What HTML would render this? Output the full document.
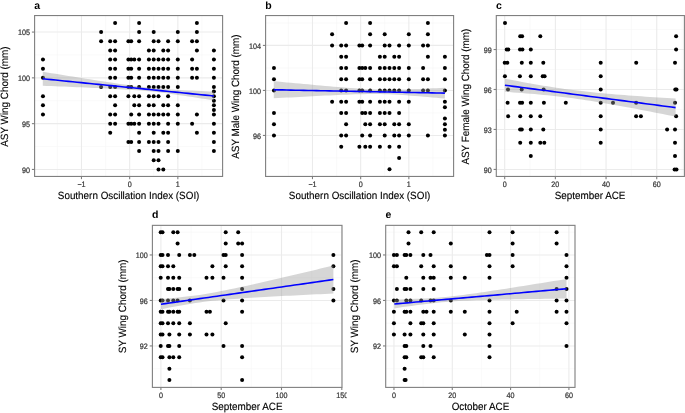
<!DOCTYPE html>
<html><head><meta charset="utf-8"><style>
html,body{margin:0;padding:0;background:#fff;width:685px;height:413px;overflow:hidden}
svg{will-change:transform}
#w{width:685px;height:413px;position:relative}
svg text{text-rendering:geometricPrecision;font-family:"Liberation Sans", sans-serif}
</style></head><body><div id="w">
<svg width="685" height="413" viewBox="0 0 685 413" style="position:absolute;left:0;top:0"><defs><clipPath id="clipa"><rect x="34.6" y="15.55" width="188.0" height="160.89999999999998"/></clipPath><clipPath id="clipb"><rect x="265.6" y="15.55" width="188.0" height="160.89999999999998"/></clipPath><clipPath id="clipc"><rect x="496.3" y="15.55" width="187.49999999999994" height="160.89999999999998"/></clipPath><clipPath id="clipd"><rect x="152.4" y="225.35" width="189.4" height="162.04999999999998"/></clipPath><clipPath id="clipe"><rect x="385.7" y="225.35" width="189.59999999999997" height="162.04999999999998"/></clipPath><clipPath id="clip150"><rect x="330" y="388" width="16.7" height="20"/></clipPath></defs><rect width="685" height="413" fill="#fff"/><g clip-path="url(#clipa)"><line x1="57.39" y1="15.55" x2="57.39" y2="176.45" stroke="#F5F5F5" stroke-width="0.55"/><line x1="105.57" y1="15.55" x2="105.57" y2="176.45" stroke="#F5F5F5" stroke-width="0.55"/><line x1="153.75" y1="15.55" x2="153.75" y2="176.45" stroke="#F5F5F5" stroke-width="0.55"/><line x1="201.93" y1="15.55" x2="201.93" y2="176.45" stroke="#F5F5F5" stroke-width="0.55"/><line x1="34.6" y1="146.54" x2="222.6" y2="146.54" stroke="#F5F5F5" stroke-width="0.55"/><line x1="34.6" y1="100.75" x2="222.6" y2="100.75" stroke="#F5F5F5" stroke-width="0.55"/><line x1="34.6" y1="54.96" x2="222.6" y2="54.96" stroke="#F5F5F5" stroke-width="0.55"/><line x1="81.48" y1="15.55" x2="81.48" y2="176.45" stroke="#EBEBEB" stroke-width="1.1"/><line x1="129.66" y1="15.55" x2="129.66" y2="176.45" stroke="#EBEBEB" stroke-width="1.1"/><line x1="177.84" y1="15.55" x2="177.84" y2="176.45" stroke="#EBEBEB" stroke-width="1.1"/><line x1="34.6" y1="169.44" x2="222.6" y2="169.44" stroke="#EBEBEB" stroke-width="1.1"/><line x1="34.6" y1="123.65" x2="222.6" y2="123.65" stroke="#EBEBEB" stroke-width="1.1"/><line x1="34.6" y1="77.86" x2="222.6" y2="77.86" stroke="#EBEBEB" stroke-width="1.1"/><line x1="34.6" y1="32.07" x2="222.6" y2="32.07" stroke="#EBEBEB" stroke-width="1.1"/><circle cx="115.10" cy="22.91" r="2.0" fill="#000"/><circle cx="139.10" cy="22.91" r="2.0" fill="#000"/><circle cx="196.90" cy="22.91" r="2.0" fill="#000"/><circle cx="101.10" cy="32.07" r="2.0" fill="#000"/><circle cx="139.10" cy="32.07" r="2.0" fill="#000"/><circle cx="153.70" cy="32.07" r="2.0" fill="#000"/><circle cx="177.80" cy="32.07" r="2.0" fill="#000"/><circle cx="196.90" cy="32.07" r="2.0" fill="#000"/><circle cx="101.10" cy="41.23" r="2.0" fill="#000"/><circle cx="110.20" cy="41.23" r="2.0" fill="#000"/><circle cx="115.10" cy="41.23" r="2.0" fill="#000"/><circle cx="128.40" cy="41.23" r="2.0" fill="#000"/><circle cx="131.20" cy="41.23" r="2.0" fill="#000"/><circle cx="139.10" cy="41.23" r="2.0" fill="#000"/><circle cx="153.70" cy="41.23" r="2.0" fill="#000"/><circle cx="158.50" cy="41.23" r="2.0" fill="#000"/><circle cx="168.10" cy="41.23" r="2.0" fill="#000"/><circle cx="177.80" cy="41.23" r="2.0" fill="#000"/><circle cx="192.10" cy="41.23" r="2.0" fill="#000"/><circle cx="196.90" cy="41.23" r="2.0" fill="#000"/><circle cx="110.20" cy="50.38" r="2.0" fill="#000"/><circle cx="115.10" cy="50.38" r="2.0" fill="#000"/><circle cx="148.90" cy="50.38" r="2.0" fill="#000"/><circle cx="153.70" cy="50.38" r="2.0" fill="#000"/><circle cx="163.30" cy="50.38" r="2.0" fill="#000"/><circle cx="168.10" cy="50.38" r="2.0" fill="#000"/><circle cx="196.90" cy="50.38" r="2.0" fill="#000"/><circle cx="213.90" cy="50.38" r="2.0" fill="#000"/><circle cx="42.95" cy="59.54" r="2.0" fill="#000"/><circle cx="110.20" cy="59.54" r="2.0" fill="#000"/><circle cx="115.10" cy="59.54" r="2.0" fill="#000"/><circle cx="128.40" cy="59.54" r="2.0" fill="#000"/><circle cx="131.20" cy="59.54" r="2.0" fill="#000"/><circle cx="134.30" cy="59.54" r="2.0" fill="#000"/><circle cx="139.10" cy="59.54" r="2.0" fill="#000"/><circle cx="148.90" cy="59.54" r="2.0" fill="#000"/><circle cx="153.70" cy="59.54" r="2.0" fill="#000"/><circle cx="158.50" cy="59.54" r="2.0" fill="#000"/><circle cx="163.30" cy="59.54" r="2.0" fill="#000"/><circle cx="168.10" cy="59.54" r="2.0" fill="#000"/><circle cx="177.80" cy="59.54" r="2.0" fill="#000"/><circle cx="192.10" cy="59.54" r="2.0" fill="#000"/><circle cx="213.90" cy="59.54" r="2.0" fill="#000"/><circle cx="42.95" cy="68.70" r="2.0" fill="#000"/><circle cx="110.20" cy="68.70" r="2.0" fill="#000"/><circle cx="115.10" cy="68.70" r="2.0" fill="#000"/><circle cx="128.40" cy="68.70" r="2.0" fill="#000"/><circle cx="131.20" cy="68.70" r="2.0" fill="#000"/><circle cx="139.10" cy="68.70" r="2.0" fill="#000"/><circle cx="148.90" cy="68.70" r="2.0" fill="#000"/><circle cx="153.70" cy="68.70" r="2.0" fill="#000"/><circle cx="158.50" cy="68.70" r="2.0" fill="#000"/><circle cx="163.30" cy="68.70" r="2.0" fill="#000"/><circle cx="168.10" cy="68.70" r="2.0" fill="#000"/><circle cx="177.80" cy="68.70" r="2.0" fill="#000"/><circle cx="192.10" cy="68.70" r="2.0" fill="#000"/><circle cx="196.90" cy="68.70" r="2.0" fill="#000"/><circle cx="213.90" cy="68.70" r="2.0" fill="#000"/><circle cx="42.95" cy="77.86" r="2.0" fill="#000"/><circle cx="110.20" cy="77.86" r="2.0" fill="#000"/><circle cx="115.10" cy="77.86" r="2.0" fill="#000"/><circle cx="128.40" cy="77.86" r="2.0" fill="#000"/><circle cx="131.20" cy="77.86" r="2.0" fill="#000"/><circle cx="139.10" cy="77.86" r="2.0" fill="#000"/><circle cx="148.90" cy="77.86" r="2.0" fill="#000"/><circle cx="153.70" cy="77.86" r="2.0" fill="#000"/><circle cx="158.50" cy="77.86" r="2.0" fill="#000"/><circle cx="163.30" cy="77.86" r="2.0" fill="#000"/><circle cx="168.10" cy="77.86" r="2.0" fill="#000"/><circle cx="177.80" cy="77.86" r="2.0" fill="#000"/><circle cx="192.10" cy="77.86" r="2.0" fill="#000"/><circle cx="196.90" cy="77.86" r="2.0" fill="#000"/><circle cx="213.90" cy="77.86" r="2.0" fill="#000"/><circle cx="101.10" cy="87.02" r="2.0" fill="#000"/><circle cx="110.20" cy="87.02" r="2.0" fill="#000"/><circle cx="115.10" cy="87.02" r="2.0" fill="#000"/><circle cx="128.40" cy="87.02" r="2.0" fill="#000"/><circle cx="131.20" cy="87.02" r="2.0" fill="#000"/><circle cx="139.10" cy="87.02" r="2.0" fill="#000"/><circle cx="148.90" cy="87.02" r="2.0" fill="#000"/><circle cx="153.70" cy="87.02" r="2.0" fill="#000"/><circle cx="158.50" cy="87.02" r="2.0" fill="#000"/><circle cx="163.30" cy="87.02" r="2.0" fill="#000"/><circle cx="168.10" cy="87.02" r="2.0" fill="#000"/><circle cx="177.80" cy="87.02" r="2.0" fill="#000"/><circle cx="213.90" cy="87.02" r="2.0" fill="#000"/><circle cx="213.90" cy="91.60" r="2.0" fill="#000"/><circle cx="42.95" cy="96.17" r="2.0" fill="#000"/><circle cx="110.20" cy="96.17" r="2.0" fill="#000"/><circle cx="115.10" cy="96.17" r="2.0" fill="#000"/><circle cx="128.40" cy="96.17" r="2.0" fill="#000"/><circle cx="134.30" cy="96.17" r="2.0" fill="#000"/><circle cx="139.10" cy="96.17" r="2.0" fill="#000"/><circle cx="148.90" cy="96.17" r="2.0" fill="#000"/><circle cx="153.70" cy="96.17" r="2.0" fill="#000"/><circle cx="158.50" cy="96.17" r="2.0" fill="#000"/><circle cx="168.10" cy="96.17" r="2.0" fill="#000"/><circle cx="213.90" cy="96.17" r="2.0" fill="#000"/><circle cx="213.90" cy="100.75" r="2.0" fill="#000"/><circle cx="42.95" cy="105.33" r="2.0" fill="#000"/><circle cx="115.10" cy="105.33" r="2.0" fill="#000"/><circle cx="134.30" cy="105.33" r="2.0" fill="#000"/><circle cx="139.10" cy="105.33" r="2.0" fill="#000"/><circle cx="148.90" cy="105.33" r="2.0" fill="#000"/><circle cx="153.70" cy="105.33" r="2.0" fill="#000"/><circle cx="163.30" cy="105.33" r="2.0" fill="#000"/><circle cx="168.10" cy="105.33" r="2.0" fill="#000"/><circle cx="177.80" cy="105.33" r="2.0" fill="#000"/><circle cx="213.90" cy="105.33" r="2.0" fill="#000"/><circle cx="213.90" cy="109.91" r="2.0" fill="#000"/><circle cx="42.95" cy="114.49" r="2.0" fill="#000"/><circle cx="110.20" cy="114.49" r="2.0" fill="#000"/><circle cx="115.10" cy="114.49" r="2.0" fill="#000"/><circle cx="131.20" cy="114.49" r="2.0" fill="#000"/><circle cx="139.10" cy="114.49" r="2.0" fill="#000"/><circle cx="148.90" cy="114.49" r="2.0" fill="#000"/><circle cx="153.70" cy="114.49" r="2.0" fill="#000"/><circle cx="158.50" cy="114.49" r="2.0" fill="#000"/><circle cx="163.30" cy="114.49" r="2.0" fill="#000"/><circle cx="168.10" cy="114.49" r="2.0" fill="#000"/><circle cx="177.80" cy="114.49" r="2.0" fill="#000"/><circle cx="196.90" cy="114.49" r="2.0" fill="#000"/><circle cx="213.90" cy="114.49" r="2.0" fill="#000"/><circle cx="110.20" cy="123.65" r="2.0" fill="#000"/><circle cx="115.10" cy="123.65" r="2.0" fill="#000"/><circle cx="128.40" cy="123.65" r="2.0" fill="#000"/><circle cx="131.20" cy="123.65" r="2.0" fill="#000"/><circle cx="134.30" cy="123.65" r="2.0" fill="#000"/><circle cx="139.10" cy="123.65" r="2.0" fill="#000"/><circle cx="148.90" cy="123.65" r="2.0" fill="#000"/><circle cx="153.70" cy="123.65" r="2.0" fill="#000"/><circle cx="158.50" cy="123.65" r="2.0" fill="#000"/><circle cx="168.10" cy="123.65" r="2.0" fill="#000"/><circle cx="177.80" cy="123.65" r="2.0" fill="#000"/><circle cx="192.10" cy="123.65" r="2.0" fill="#000"/><circle cx="213.90" cy="123.65" r="2.0" fill="#000"/><circle cx="110.20" cy="132.81" r="2.0" fill="#000"/><circle cx="139.10" cy="132.81" r="2.0" fill="#000"/><circle cx="153.70" cy="132.81" r="2.0" fill="#000"/><circle cx="163.30" cy="132.81" r="2.0" fill="#000"/><circle cx="168.10" cy="132.81" r="2.0" fill="#000"/><circle cx="196.90" cy="132.81" r="2.0" fill="#000"/><circle cx="213.90" cy="132.81" r="2.0" fill="#000"/><circle cx="128.40" cy="141.97" r="2.0" fill="#000"/><circle cx="131.20" cy="141.97" r="2.0" fill="#000"/><circle cx="139.10" cy="141.97" r="2.0" fill="#000"/><circle cx="148.90" cy="141.97" r="2.0" fill="#000"/><circle cx="153.70" cy="141.97" r="2.0" fill="#000"/><circle cx="158.50" cy="141.97" r="2.0" fill="#000"/><circle cx="168.10" cy="141.97" r="2.0" fill="#000"/><circle cx="213.90" cy="141.97" r="2.0" fill="#000"/><circle cx="139.10" cy="151.12" r="2.0" fill="#000"/><circle cx="153.70" cy="151.12" r="2.0" fill="#000"/><circle cx="158.50" cy="151.12" r="2.0" fill="#000"/><circle cx="168.10" cy="151.12" r="2.0" fill="#000"/><circle cx="177.80" cy="151.12" r="2.0" fill="#000"/><circle cx="213.90" cy="151.12" r="2.0" fill="#000"/><circle cx="153.70" cy="160.28" r="2.0" fill="#000"/><circle cx="158.50" cy="160.28" r="2.0" fill="#000"/><circle cx="158.50" cy="169.44" r="2.0" fill="#000"/><circle cx="163.30" cy="169.44" r="2.0" fill="#000"/><polygon points="42.80,71.81 47.08,72.50 51.35,73.19 55.63,73.87 59.91,74.56 64.19,75.24 68.47,75.93 72.74,76.61 77.02,77.29 81.30,77.97 85.58,78.64 89.85,79.32 94.13,79.99 98.41,80.65 102.69,81.31 106.96,81.97 111.24,82.62 115.52,83.26 119.80,83.89 124.07,84.50 128.35,85.10 132.63,85.68 136.91,86.24 141.18,86.76 145.46,87.25 149.74,87.70 154.01,88.12 158.29,88.49 162.57,88.84 166.85,89.15 171.12,89.43 175.40,89.70 179.68,89.94 183.96,90.18 188.24,90.40 192.51,90.61 196.79,90.82 201.07,91.02 205.35,91.22 209.62,91.41 213.90,91.60 213.90,100.39 209.62,99.72 205.35,99.05 201.07,98.38 196.79,97.72 192.51,97.07 188.24,96.42 183.96,95.78 179.68,95.15 175.40,94.54 171.12,93.94 166.85,93.37 162.57,92.82 158.29,92.30 154.01,91.81 149.74,91.37 145.46,90.96 141.18,90.59 136.91,90.25 132.63,89.95 128.35,89.67 124.07,89.40 119.80,89.16 115.52,88.93 111.24,88.71 106.96,88.49 102.69,88.29 98.41,88.09 94.13,87.89 89.85,87.70 85.58,87.51 81.30,87.33 77.02,87.15 72.74,86.97 68.47,86.79 64.19,86.61 59.91,86.43 55.63,86.26 51.35,86.08 47.08,85.91 42.80,85.74" fill="#999" fill-opacity="0.4"/><polyline points="42.80,78.77 47.08,79.20 51.35,79.64 55.63,80.07 59.91,80.50 64.19,80.93 68.47,81.36 72.74,81.79 77.02,82.22 81.30,82.65 85.58,83.08 89.85,83.51 94.13,83.94 98.41,84.37 102.69,84.80 106.96,85.23 111.24,85.66 115.52,86.09 119.80,86.52 124.07,86.95 128.35,87.38 132.63,87.81 136.91,88.24 141.18,88.67 145.46,89.10 149.74,89.54 154.01,89.97 158.29,90.40 162.57,90.83 166.85,91.26 171.12,91.69 175.40,92.12 179.68,92.55 183.96,92.98 188.24,93.41 192.51,93.84 196.79,94.27 201.07,94.70 205.35,95.13 209.62,95.56 213.90,95.99" fill="none" stroke="#0000FF" stroke-width="1.6"/></g><rect x="34.6" y="15.55" width="188.0" height="160.89999999999998" fill="none" stroke="#7f7f7f" stroke-width="1.1"/><line x1="81.48" y1="176.45" x2="81.48" y2="179.14999999999998" stroke="#7f7f7f" stroke-width="1.1"/><text transform="translate(81.48 187.05) scale(1 1.1)" font-size="7.2" fill="#333" stroke="#333" stroke-width="0.2" text-anchor="middle">−1</text><line x1="129.66" y1="176.45" x2="129.66" y2="179.14999999999998" stroke="#7f7f7f" stroke-width="1.1"/><text transform="translate(129.66 187.05) scale(1 1.1)" font-size="7.2" fill="#333" stroke="#333" stroke-width="0.2" text-anchor="middle">0</text><line x1="177.84" y1="176.45" x2="177.84" y2="179.14999999999998" stroke="#7f7f7f" stroke-width="1.1"/><text transform="translate(177.84 187.05) scale(1 1.1)" font-size="7.2" fill="#333" stroke="#333" stroke-width="0.2" text-anchor="middle">1</text><line x1="31.900000000000002" y1="169.44" x2="34.6" y2="169.44" stroke="#7f7f7f" stroke-width="1.1"/><text transform="translate(30.00 172.74) scale(1 1.1)" font-size="7.2" fill="#333" stroke="#333" stroke-width="0.2" text-anchor="end">90</text><line x1="31.900000000000002" y1="123.65" x2="34.6" y2="123.65" stroke="#7f7f7f" stroke-width="1.1"/><text transform="translate(30.00 126.95) scale(1 1.1)" font-size="7.2" fill="#333" stroke="#333" stroke-width="0.2" text-anchor="end">95</text><line x1="31.900000000000002" y1="77.86" x2="34.6" y2="77.86" stroke="#7f7f7f" stroke-width="1.1"/><text transform="translate(30.00 81.16) scale(1 1.1)" font-size="7.2" fill="#333" stroke="#333" stroke-width="0.2" text-anchor="end">100</text><line x1="31.900000000000002" y1="32.07" x2="34.6" y2="32.07" stroke="#7f7f7f" stroke-width="1.1"/><text transform="translate(30.00 35.37) scale(1 1.1)" font-size="7.2" fill="#333" stroke="#333" stroke-width="0.2" text-anchor="end">105</text><text transform="translate(128.60 199.40) scale(1 1.06)" font-size="9.9" fill="#000" stroke="#000" stroke-width="0.12" text-anchor="middle">Southern Oscillation Index (SOI)</text><text transform="translate(7.60 96.60) rotate(-90) scale(1 1.06)" font-size="9.9" fill="#000" stroke="#000" stroke-width="0.12" text-anchor="middle">ASY Wing Chord (mm)</text><text x="34.30" y="8.90" font-size="10.5" font-weight="bold" fill="#000">a</text><g clip-path="url(#clipb)"><line x1="288.39" y1="15.55" x2="288.39" y2="176.45" stroke="#F5F5F5" stroke-width="0.55"/><line x1="336.57" y1="15.55" x2="336.57" y2="176.45" stroke="#F5F5F5" stroke-width="0.55"/><line x1="384.75" y1="15.55" x2="384.75" y2="176.45" stroke="#F5F5F5" stroke-width="0.55"/><line x1="432.93" y1="15.55" x2="432.93" y2="176.45" stroke="#F5F5F5" stroke-width="0.55"/><line x1="265.6" y1="157.95" x2="453.6" y2="157.95" stroke="#F5F5F5" stroke-width="0.55"/><line x1="265.6" y1="112.93" x2="453.6" y2="112.93" stroke="#F5F5F5" stroke-width="0.55"/><line x1="265.6" y1="67.92" x2="453.6" y2="67.92" stroke="#F5F5F5" stroke-width="0.55"/><line x1="265.6" y1="22.91" x2="453.6" y2="22.91" stroke="#F5F5F5" stroke-width="0.55"/><line x1="312.48" y1="15.55" x2="312.48" y2="176.45" stroke="#EBEBEB" stroke-width="1.1"/><line x1="360.66" y1="15.55" x2="360.66" y2="176.45" stroke="#EBEBEB" stroke-width="1.1"/><line x1="408.84" y1="15.55" x2="408.84" y2="176.45" stroke="#EBEBEB" stroke-width="1.1"/><line x1="265.6" y1="135.44" x2="453.6" y2="135.44" stroke="#EBEBEB" stroke-width="1.1"/><line x1="265.6" y1="90.43" x2="453.6" y2="90.43" stroke="#EBEBEB" stroke-width="1.1"/><line x1="265.6" y1="45.42" x2="453.6" y2="45.42" stroke="#EBEBEB" stroke-width="1.1"/><circle cx="346.10" cy="22.91" r="2.0" fill="#000"/><circle cx="370.10" cy="22.91" r="2.0" fill="#000"/><circle cx="427.90" cy="22.91" r="2.0" fill="#000"/><circle cx="332.10" cy="34.16" r="2.0" fill="#000"/><circle cx="370.10" cy="34.16" r="2.0" fill="#000"/><circle cx="384.70" cy="34.16" r="2.0" fill="#000"/><circle cx="408.80" cy="34.16" r="2.0" fill="#000"/><circle cx="427.90" cy="34.16" r="2.0" fill="#000"/><circle cx="332.10" cy="45.42" r="2.0" fill="#000"/><circle cx="341.20" cy="45.42" r="2.0" fill="#000"/><circle cx="346.10" cy="45.42" r="2.0" fill="#000"/><circle cx="359.40" cy="45.42" r="2.0" fill="#000"/><circle cx="362.20" cy="45.42" r="2.0" fill="#000"/><circle cx="370.10" cy="45.42" r="2.0" fill="#000"/><circle cx="384.70" cy="45.42" r="2.0" fill="#000"/><circle cx="389.50" cy="45.42" r="2.0" fill="#000"/><circle cx="399.10" cy="45.42" r="2.0" fill="#000"/><circle cx="408.80" cy="45.42" r="2.0" fill="#000"/><circle cx="423.10" cy="45.42" r="2.0" fill="#000"/><circle cx="427.90" cy="45.42" r="2.0" fill="#000"/><circle cx="341.20" cy="56.67" r="2.0" fill="#000"/><circle cx="346.10" cy="56.67" r="2.0" fill="#000"/><circle cx="379.90" cy="56.67" r="2.0" fill="#000"/><circle cx="384.70" cy="56.67" r="2.0" fill="#000"/><circle cx="394.30" cy="56.67" r="2.0" fill="#000"/><circle cx="399.10" cy="56.67" r="2.0" fill="#000"/><circle cx="427.90" cy="56.67" r="2.0" fill="#000"/><circle cx="444.90" cy="56.67" r="2.0" fill="#000"/><circle cx="273.95" cy="67.92" r="2.0" fill="#000"/><circle cx="341.20" cy="67.92" r="2.0" fill="#000"/><circle cx="346.10" cy="67.92" r="2.0" fill="#000"/><circle cx="359.40" cy="67.92" r="2.0" fill="#000"/><circle cx="362.20" cy="67.92" r="2.0" fill="#000"/><circle cx="365.30" cy="67.92" r="2.0" fill="#000"/><circle cx="370.10" cy="67.92" r="2.0" fill="#000"/><circle cx="379.90" cy="67.92" r="2.0" fill="#000"/><circle cx="384.70" cy="67.92" r="2.0" fill="#000"/><circle cx="389.50" cy="67.92" r="2.0" fill="#000"/><circle cx="394.30" cy="67.92" r="2.0" fill="#000"/><circle cx="399.10" cy="67.92" r="2.0" fill="#000"/><circle cx="408.80" cy="67.92" r="2.0" fill="#000"/><circle cx="423.10" cy="67.92" r="2.0" fill="#000"/><circle cx="444.90" cy="67.92" r="2.0" fill="#000"/><circle cx="273.95" cy="79.18" r="2.0" fill="#000"/><circle cx="341.20" cy="79.18" r="2.0" fill="#000"/><circle cx="346.10" cy="79.18" r="2.0" fill="#000"/><circle cx="359.40" cy="79.18" r="2.0" fill="#000"/><circle cx="362.20" cy="79.18" r="2.0" fill="#000"/><circle cx="370.10" cy="79.18" r="2.0" fill="#000"/><circle cx="379.90" cy="79.18" r="2.0" fill="#000"/><circle cx="384.70" cy="79.18" r="2.0" fill="#000"/><circle cx="389.50" cy="79.18" r="2.0" fill="#000"/><circle cx="394.30" cy="79.18" r="2.0" fill="#000"/><circle cx="399.10" cy="79.18" r="2.0" fill="#000"/><circle cx="408.80" cy="79.18" r="2.0" fill="#000"/><circle cx="423.10" cy="79.18" r="2.0" fill="#000"/><circle cx="427.90" cy="79.18" r="2.0" fill="#000"/><circle cx="444.90" cy="79.18" r="2.0" fill="#000"/><circle cx="273.95" cy="90.43" r="2.0" fill="#000"/><circle cx="341.20" cy="90.43" r="2.0" fill="#000"/><circle cx="346.10" cy="90.43" r="2.0" fill="#000"/><circle cx="359.40" cy="90.43" r="2.0" fill="#000"/><circle cx="362.20" cy="90.43" r="2.0" fill="#000"/><circle cx="370.10" cy="90.43" r="2.0" fill="#000"/><circle cx="379.90" cy="90.43" r="2.0" fill="#000"/><circle cx="384.70" cy="90.43" r="2.0" fill="#000"/><circle cx="389.50" cy="90.43" r="2.0" fill="#000"/><circle cx="394.30" cy="90.43" r="2.0" fill="#000"/><circle cx="399.10" cy="90.43" r="2.0" fill="#000"/><circle cx="408.80" cy="90.43" r="2.0" fill="#000"/><circle cx="423.10" cy="90.43" r="2.0" fill="#000"/><circle cx="427.90" cy="90.43" r="2.0" fill="#000"/><circle cx="444.90" cy="90.43" r="2.0" fill="#000"/><circle cx="332.10" cy="101.68" r="2.0" fill="#000"/><circle cx="341.20" cy="101.68" r="2.0" fill="#000"/><circle cx="346.10" cy="101.68" r="2.0" fill="#000"/><circle cx="359.40" cy="101.68" r="2.0" fill="#000"/><circle cx="362.20" cy="101.68" r="2.0" fill="#000"/><circle cx="370.10" cy="101.68" r="2.0" fill="#000"/><circle cx="379.90" cy="101.68" r="2.0" fill="#000"/><circle cx="384.70" cy="101.68" r="2.0" fill="#000"/><circle cx="389.50" cy="101.68" r="2.0" fill="#000"/><circle cx="399.10" cy="101.68" r="2.0" fill="#000"/><circle cx="408.80" cy="101.68" r="2.0" fill="#000"/><circle cx="444.90" cy="101.68" r="2.0" fill="#000"/><circle cx="444.90" cy="107.31" r="2.0" fill="#000"/><circle cx="273.95" cy="112.93" r="2.0" fill="#000"/><circle cx="341.20" cy="112.93" r="2.0" fill="#000"/><circle cx="346.10" cy="112.93" r="2.0" fill="#000"/><circle cx="362.20" cy="112.93" r="2.0" fill="#000"/><circle cx="365.30" cy="112.93" r="2.0" fill="#000"/><circle cx="370.10" cy="112.93" r="2.0" fill="#000"/><circle cx="379.90" cy="112.93" r="2.0" fill="#000"/><circle cx="384.70" cy="112.93" r="2.0" fill="#000"/><circle cx="389.50" cy="112.93" r="2.0" fill="#000"/><circle cx="399.10" cy="112.93" r="2.0" fill="#000"/><circle cx="444.90" cy="118.56" r="2.0" fill="#000"/><circle cx="273.95" cy="124.19" r="2.0" fill="#000"/><circle cx="346.10" cy="124.19" r="2.0" fill="#000"/><circle cx="365.30" cy="124.19" r="2.0" fill="#000"/><circle cx="370.10" cy="124.19" r="2.0" fill="#000"/><circle cx="379.90" cy="124.19" r="2.0" fill="#000"/><circle cx="384.70" cy="124.19" r="2.0" fill="#000"/><circle cx="394.30" cy="124.19" r="2.0" fill="#000"/><circle cx="399.10" cy="124.19" r="2.0" fill="#000"/><circle cx="408.80" cy="124.19" r="2.0" fill="#000"/><circle cx="444.90" cy="124.19" r="2.0" fill="#000"/><circle cx="444.90" cy="129.81" r="2.0" fill="#000"/><circle cx="273.95" cy="135.44" r="2.0" fill="#000"/><circle cx="341.20" cy="135.44" r="2.0" fill="#000"/><circle cx="346.10" cy="135.44" r="2.0" fill="#000"/><circle cx="362.20" cy="135.44" r="2.0" fill="#000"/><circle cx="370.10" cy="135.44" r="2.0" fill="#000"/><circle cx="384.70" cy="135.44" r="2.0" fill="#000"/><circle cx="394.30" cy="135.44" r="2.0" fill="#000"/><circle cx="399.10" cy="135.44" r="2.0" fill="#000"/><circle cx="408.80" cy="135.44" r="2.0" fill="#000"/><circle cx="427.90" cy="135.44" r="2.0" fill="#000"/><circle cx="444.90" cy="135.44" r="2.0" fill="#000"/><circle cx="341.20" cy="146.69" r="2.0" fill="#000"/><circle cx="359.40" cy="146.69" r="2.0" fill="#000"/><circle cx="365.30" cy="146.69" r="2.0" fill="#000"/><circle cx="370.10" cy="146.69" r="2.0" fill="#000"/><circle cx="379.90" cy="146.69" r="2.0" fill="#000"/><circle cx="389.50" cy="146.69" r="2.0" fill="#000"/><circle cx="399.10" cy="146.69" r="2.0" fill="#000"/><circle cx="399.10" cy="157.95" r="2.0" fill="#000"/><circle cx="389.50" cy="169.20" r="2.0" fill="#000"/><polygon points="273.80,81.20 278.08,81.60 282.36,82.00 286.63,82.40 290.91,82.80 295.19,83.19 299.47,83.59 303.74,83.98 308.02,84.37 312.30,84.76 316.57,85.15 320.85,85.53 325.13,85.91 329.41,86.28 333.69,86.65 337.96,87.01 342.24,87.36 346.52,87.70 350.79,88.03 355.07,88.34 359.35,88.64 363.63,88.90 367.90,89.14 372.18,89.34 376.46,89.50 380.74,89.61 385.01,89.68 389.29,89.69 393.57,89.67 397.85,89.61 402.12,89.51 406.40,89.39 410.68,89.25 414.96,89.09 419.24,88.92 423.51,88.74 427.79,88.55 432.07,88.35 436.34,88.15 440.62,87.94 444.90,87.73 444.90,98.53 440.62,98.15 436.34,97.77 432.07,97.40 427.79,97.03 423.51,96.67 419.24,96.32 414.96,95.98 410.68,95.66 406.40,95.35 402.12,95.06 397.85,94.79 393.57,94.56 389.29,94.37 385.01,94.22 380.74,94.11 376.46,94.06 372.18,94.05 367.90,94.08 363.63,94.15 359.35,94.25 355.07,94.37 350.79,94.51 346.52,94.67 342.24,94.85 337.96,95.03 333.69,95.22 329.41,95.42 325.13,95.62 320.85,95.83 316.57,96.05 312.30,96.26 308.02,96.48 303.74,96.71 299.47,96.93 295.19,97.16 290.91,97.39 286.63,97.62 282.36,97.85 278.08,98.08 273.80,98.31" fill="#999" fill-opacity="0.4"/><polyline points="273.80,89.75 278.08,89.84 282.36,89.92 286.63,90.01 290.91,90.09 295.19,90.18 299.47,90.26 303.74,90.34 308.02,90.43 312.30,90.51 316.57,90.60 320.85,90.68 325.13,90.77 329.41,90.85 333.69,90.93 337.96,91.02 342.24,91.10 346.52,91.19 350.79,91.27 355.07,91.36 359.35,91.44 363.63,91.53 367.90,91.61 372.18,91.69 376.46,91.78 380.74,91.86 385.01,91.95 389.29,92.03 393.57,92.12 397.85,92.20 402.12,92.29 406.40,92.37 410.68,92.45 414.96,92.54 419.24,92.62 423.51,92.71 427.79,92.79 432.07,92.88 436.34,92.96 440.62,93.04 444.90,93.13" fill="none" stroke="#0000FF" stroke-width="1.6"/></g><rect x="265.6" y="15.55" width="188.0" height="160.89999999999998" fill="none" stroke="#7f7f7f" stroke-width="1.1"/><line x1="312.48" y1="176.45" x2="312.48" y2="179.14999999999998" stroke="#7f7f7f" stroke-width="1.1"/><text transform="translate(312.48 187.05) scale(1 1.1)" font-size="7.2" fill="#333" stroke="#333" stroke-width="0.2" text-anchor="middle">−1</text><line x1="360.66" y1="176.45" x2="360.66" y2="179.14999999999998" stroke="#7f7f7f" stroke-width="1.1"/><text transform="translate(360.66 187.05) scale(1 1.1)" font-size="7.2" fill="#333" stroke="#333" stroke-width="0.2" text-anchor="middle">0</text><line x1="408.84" y1="176.45" x2="408.84" y2="179.14999999999998" stroke="#7f7f7f" stroke-width="1.1"/><text transform="translate(408.84 187.05) scale(1 1.1)" font-size="7.2" fill="#333" stroke="#333" stroke-width="0.2" text-anchor="middle">1</text><line x1="262.90000000000003" y1="135.44" x2="265.6" y2="135.44" stroke="#7f7f7f" stroke-width="1.1"/><text transform="translate(261.00 138.74) scale(1 1.1)" font-size="7.2" fill="#333" stroke="#333" stroke-width="0.2" text-anchor="end">96</text><line x1="262.90000000000003" y1="90.43" x2="265.6" y2="90.43" stroke="#7f7f7f" stroke-width="1.1"/><text transform="translate(261.00 93.73) scale(1 1.1)" font-size="7.2" fill="#333" stroke="#333" stroke-width="0.2" text-anchor="end">100</text><line x1="262.90000000000003" y1="45.42" x2="265.6" y2="45.42" stroke="#7f7f7f" stroke-width="1.1"/><text transform="translate(261.00 48.72) scale(1 1.1)" font-size="7.2" fill="#333" stroke="#333" stroke-width="0.2" text-anchor="end">104</text><text transform="translate(359.60 199.40) scale(1 1.06)" font-size="9.9" fill="#000" stroke="#000" stroke-width="0.12" text-anchor="middle">Southern Oscillation Index (SOI)</text><text transform="translate(238.60 96.60) rotate(-90) scale(1 1.06)" font-size="9.9" fill="#000" stroke="#000" stroke-width="0.12" text-anchor="middle">ASY Male Wing Chord (mm)</text><text x="265.30" y="8.90" font-size="10.5" font-weight="bold" fill="#000">b</text><g clip-path="url(#clipc)"><line x1="530.03" y1="15.55" x2="530.03" y2="176.45" stroke="#F5F5F5" stroke-width="0.55"/><line x1="580.71" y1="15.55" x2="580.71" y2="176.45" stroke="#F5F5F5" stroke-width="0.55"/><line x1="631.39" y1="15.55" x2="631.39" y2="176.45" stroke="#F5F5F5" stroke-width="0.55"/><line x1="682.08" y1="15.55" x2="682.08" y2="176.45" stroke="#F5F5F5" stroke-width="0.55"/><line x1="496.3" y1="149.45" x2="683.8" y2="149.45" stroke="#F5F5F5" stroke-width="0.55"/><line x1="496.3" y1="109.48" x2="683.8" y2="109.48" stroke="#F5F5F5" stroke-width="0.55"/><line x1="496.3" y1="69.51" x2="683.8" y2="69.51" stroke="#F5F5F5" stroke-width="0.55"/><line x1="496.3" y1="29.54" x2="683.8" y2="29.54" stroke="#F5F5F5" stroke-width="0.55"/><line x1="504.69" y1="15.55" x2="504.69" y2="176.45" stroke="#EBEBEB" stroke-width="1.1"/><line x1="555.37" y1="15.55" x2="555.37" y2="176.45" stroke="#EBEBEB" stroke-width="1.1"/><line x1="606.05" y1="15.55" x2="606.05" y2="176.45" stroke="#EBEBEB" stroke-width="1.1"/><line x1="656.74" y1="15.55" x2="656.74" y2="176.45" stroke="#EBEBEB" stroke-width="1.1"/><line x1="496.3" y1="169.43" x2="683.8" y2="169.43" stroke="#EBEBEB" stroke-width="1.1"/><line x1="496.3" y1="129.46" x2="683.8" y2="129.46" stroke="#EBEBEB" stroke-width="1.1"/><line x1="496.3" y1="89.49" x2="683.8" y2="89.49" stroke="#EBEBEB" stroke-width="1.1"/><line x1="496.3" y1="49.53" x2="683.8" y2="49.53" stroke="#EBEBEB" stroke-width="1.1"/><circle cx="505.00" cy="22.88" r="2.0" fill="#000"/><circle cx="520.20" cy="36.20" r="2.0" fill="#000"/><circle cx="522.10" cy="36.20" r="2.0" fill="#000"/><circle cx="540.30" cy="36.20" r="2.0" fill="#000"/><circle cx="676.10" cy="36.20" r="2.0" fill="#000"/><circle cx="506.70" cy="49.53" r="2.0" fill="#000"/><circle cx="508.30" cy="49.53" r="2.0" fill="#000"/><circle cx="520.00" cy="49.53" r="2.0" fill="#000"/><circle cx="522.40" cy="49.53" r="2.0" fill="#000"/><circle cx="530.80" cy="49.53" r="2.0" fill="#000"/><circle cx="676.10" cy="49.53" r="2.0" fill="#000"/><circle cx="504.70" cy="62.85" r="2.0" fill="#000"/><circle cx="507.30" cy="62.85" r="2.0" fill="#000"/><circle cx="521.80" cy="62.85" r="2.0" fill="#000"/><circle cx="530.80" cy="62.85" r="2.0" fill="#000"/><circle cx="543.30" cy="62.85" r="2.0" fill="#000"/><circle cx="600.70" cy="62.85" r="2.0" fill="#000"/><circle cx="636.20" cy="62.85" r="2.0" fill="#000"/><circle cx="675.00" cy="62.85" r="2.0" fill="#000"/><circle cx="504.90" cy="76.17" r="2.0" fill="#000"/><circle cx="519.90" cy="76.17" r="2.0" fill="#000"/><circle cx="530.80" cy="76.17" r="2.0" fill="#000"/><circle cx="542.70" cy="76.17" r="2.0" fill="#000"/><circle cx="544.60" cy="76.17" r="2.0" fill="#000"/><circle cx="600.70" cy="76.17" r="2.0" fill="#000"/><circle cx="508.00" cy="89.49" r="2.0" fill="#000"/><circle cx="521.70" cy="89.49" r="2.0" fill="#000"/><circle cx="543.60" cy="89.49" r="2.0" fill="#000"/><circle cx="600.70" cy="89.49" r="2.0" fill="#000"/><circle cx="675.30" cy="89.49" r="2.0" fill="#000"/><circle cx="676.50" cy="89.49" r="2.0" fill="#000"/><circle cx="507.60" cy="102.82" r="2.0" fill="#000"/><circle cx="520.00" cy="102.82" r="2.0" fill="#000"/><circle cx="522.10" cy="102.82" r="2.0" fill="#000"/><circle cx="530.80" cy="102.82" r="2.0" fill="#000"/><circle cx="543.90" cy="102.82" r="2.0" fill="#000"/><circle cx="565.80" cy="102.82" r="2.0" fill="#000"/><circle cx="600.70" cy="102.82" r="2.0" fill="#000"/><circle cx="613.00" cy="102.82" r="2.0" fill="#000"/><circle cx="636.10" cy="102.82" r="2.0" fill="#000"/><circle cx="675.00" cy="102.82" r="2.0" fill="#000"/><circle cx="508.10" cy="116.14" r="2.0" fill="#000"/><circle cx="520.20" cy="116.14" r="2.0" fill="#000"/><circle cx="530.80" cy="116.14" r="2.0" fill="#000"/><circle cx="540.30" cy="116.14" r="2.0" fill="#000"/><circle cx="600.70" cy="116.14" r="2.0" fill="#000"/><circle cx="636.10" cy="116.14" r="2.0" fill="#000"/><circle cx="640.90" cy="116.14" r="2.0" fill="#000"/><circle cx="676.10" cy="116.14" r="2.0" fill="#000"/><circle cx="520.10" cy="129.46" r="2.0" fill="#000"/><circle cx="521.80" cy="129.46" r="2.0" fill="#000"/><circle cx="530.80" cy="129.46" r="2.0" fill="#000"/><circle cx="543.30" cy="129.46" r="2.0" fill="#000"/><circle cx="600.70" cy="129.46" r="2.0" fill="#000"/><circle cx="667.10" cy="129.46" r="2.0" fill="#000"/><circle cx="675.00" cy="129.46" r="2.0" fill="#000"/><circle cx="520.20" cy="142.78" r="2.0" fill="#000"/><circle cx="530.80" cy="142.78" r="2.0" fill="#000"/><circle cx="540.30" cy="142.78" r="2.0" fill="#000"/><circle cx="544.30" cy="142.78" r="2.0" fill="#000"/><circle cx="600.70" cy="142.78" r="2.0" fill="#000"/><circle cx="675.00" cy="142.78" r="2.0" fill="#000"/><circle cx="530.80" cy="156.11" r="2.0" fill="#000"/><circle cx="675.00" cy="156.11" r="2.0" fill="#000"/><circle cx="674.60" cy="169.43" r="2.0" fill="#000"/><circle cx="676.50" cy="169.43" r="2.0" fill="#000"/><polygon points="504.90,78.71 509.17,79.52 513.43,80.32 517.70,81.12 521.97,81.90 526.24,82.67 530.50,83.43 534.77,84.18 539.04,84.91 543.31,85.63 547.58,86.33 551.84,87.01 556.11,87.66 560.38,88.30 564.64,88.91 568.91,89.49 573.18,90.05 577.45,90.58 581.72,91.09 585.98,91.57 590.25,92.03 594.52,92.47 598.78,92.89 603.05,93.29 607.32,93.68 611.59,94.05 615.86,94.40 620.12,94.75 624.39,95.09 628.66,95.41 632.92,95.73 637.19,96.04 641.46,96.34 645.73,96.64 650.00,96.93 654.26,97.22 658.53,97.50 662.80,97.78 667.07,98.06 671.33,98.33 675.60,98.61 675.60,116.62 671.33,115.77 667.07,114.93 662.80,114.08 658.53,113.24 654.26,112.41 650.00,111.58 645.73,110.75 641.46,109.93 637.19,109.11 632.92,108.31 628.66,107.50 624.39,106.71 620.12,105.93 615.86,105.15 611.59,104.39 607.32,103.64 603.05,102.91 598.78,102.19 594.52,101.49 590.25,100.81 585.98,100.15 581.72,99.51 577.45,98.90 573.18,98.32 568.91,97.76 564.64,97.22 560.38,96.71 556.11,96.23 551.84,95.76 547.58,95.32 543.31,94.90 539.04,94.50 534.77,94.11 530.50,93.74 526.24,93.38 521.97,93.04 517.70,92.70 513.43,92.38 509.17,92.06 504.90,91.75" fill="#999" fill-opacity="0.4"/><polyline points="504.90,85.23 509.17,85.79 513.43,86.35 517.70,86.91 521.97,87.47 526.24,88.03 530.50,88.59 534.77,89.15 539.04,89.71 543.31,90.27 547.58,90.83 551.84,91.39 556.11,91.95 560.38,92.50 564.64,93.06 568.91,93.62 573.18,94.18 577.45,94.74 581.72,95.30 585.98,95.86 590.25,96.42 594.52,96.98 598.78,97.54 603.05,98.10 607.32,98.66 611.59,99.22 615.86,99.78 620.12,100.34 624.39,100.90 628.66,101.46 632.92,102.02 637.19,102.58 641.46,103.14 645.73,103.70 650.00,104.26 654.26,104.81 658.53,105.37 662.80,105.93 667.07,106.49 671.33,107.05 675.60,107.61" fill="none" stroke="#0000FF" stroke-width="1.6"/></g><rect x="496.3" y="15.55" width="188.09999999999997" height="160.89999999999998" fill="none" stroke="#7f7f7f" stroke-width="1.1"/><line x1="504.69" y1="176.45" x2="504.69" y2="179.14999999999998" stroke="#7f7f7f" stroke-width="1.1"/><text transform="translate(504.69 187.05) scale(1 1.1)" font-size="7.2" fill="#333" stroke="#333" stroke-width="0.2" text-anchor="middle">0</text><line x1="555.37" y1="176.45" x2="555.37" y2="179.14999999999998" stroke="#7f7f7f" stroke-width="1.1"/><text transform="translate(555.37 187.05) scale(1 1.1)" font-size="7.2" fill="#333" stroke="#333" stroke-width="0.2" text-anchor="middle">20</text><line x1="606.05" y1="176.45" x2="606.05" y2="179.14999999999998" stroke="#7f7f7f" stroke-width="1.1"/><text transform="translate(606.05 187.05) scale(1 1.1)" font-size="7.2" fill="#333" stroke="#333" stroke-width="0.2" text-anchor="middle">40</text><line x1="656.74" y1="176.45" x2="656.74" y2="179.14999999999998" stroke="#7f7f7f" stroke-width="1.1"/><text transform="translate(656.74 187.05) scale(1 1.1)" font-size="7.2" fill="#333" stroke="#333" stroke-width="0.2" text-anchor="middle">60</text><line x1="493.6" y1="169.43" x2="496.3" y2="169.43" stroke="#7f7f7f" stroke-width="1.1"/><text transform="translate(491.70 172.73) scale(1 1.1)" font-size="7.2" fill="#333" stroke="#333" stroke-width="0.2" text-anchor="end">90</text><line x1="493.6" y1="129.46" x2="496.3" y2="129.46" stroke="#7f7f7f" stroke-width="1.1"/><text transform="translate(491.70 132.76) scale(1 1.1)" font-size="7.2" fill="#333" stroke="#333" stroke-width="0.2" text-anchor="end">93</text><line x1="493.6" y1="89.49" x2="496.3" y2="89.49" stroke="#7f7f7f" stroke-width="1.1"/><text transform="translate(491.70 92.79) scale(1 1.1)" font-size="7.2" fill="#333" stroke="#333" stroke-width="0.2" text-anchor="end">96</text><line x1="493.6" y1="49.53" x2="496.3" y2="49.53" stroke="#7f7f7f" stroke-width="1.1"/><text transform="translate(491.70 52.83) scale(1 1.1)" font-size="7.2" fill="#333" stroke="#333" stroke-width="0.2" text-anchor="end">99</text><text transform="translate(590.05 199.40) scale(1 1.06)" font-size="9.9" fill="#000" stroke="#000" stroke-width="0.12" text-anchor="middle">September ACE</text><text transform="translate(469.30 96.60) rotate(-90) scale(1 1.06)" font-size="9.9" fill="#000" stroke="#000" stroke-width="0.12" text-anchor="middle">ASY Female Wing Chord (mm)</text><text x="496.00" y="8.90" font-size="10.5" font-weight="bold" fill="#000">c</text><g clip-path="url(#clipd)"><line x1="191.05" y1="225.35" x2="191.05" y2="387.4" stroke="#F5F5F5" stroke-width="0.55"/><line x1="251.35" y1="225.35" x2="251.35" y2="387.4" stroke="#F5F5F5" stroke-width="0.55"/><line x1="311.65" y1="225.35" x2="311.65" y2="387.4" stroke="#F5F5F5" stroke-width="0.55"/><line x1="152.4" y1="368.69" x2="341.8" y2="368.69" stroke="#F5F5F5" stroke-width="0.55"/><line x1="152.4" y1="323.20" x2="341.8" y2="323.20" stroke="#F5F5F5" stroke-width="0.55"/><line x1="152.4" y1="277.71" x2="341.8" y2="277.71" stroke="#F5F5F5" stroke-width="0.55"/><line x1="152.4" y1="232.22" x2="341.8" y2="232.22" stroke="#F5F5F5" stroke-width="0.55"/><line x1="160.90" y1="225.35" x2="160.90" y2="387.4" stroke="#EBEBEB" stroke-width="1.1"/><line x1="221.20" y1="225.35" x2="221.20" y2="387.4" stroke="#EBEBEB" stroke-width="1.1"/><line x1="281.50" y1="225.35" x2="281.50" y2="387.4" stroke="#EBEBEB" stroke-width="1.1"/><line x1="341.80" y1="225.35" x2="341.80" y2="387.4" stroke="#EBEBEB" stroke-width="1.1"/><line x1="152.4" y1="345.94" x2="341.8" y2="345.94" stroke="#EBEBEB" stroke-width="1.1"/><line x1="152.4" y1="300.45" x2="341.8" y2="300.45" stroke="#EBEBEB" stroke-width="1.1"/><line x1="152.4" y1="254.96" x2="341.8" y2="254.96" stroke="#EBEBEB" stroke-width="1.1"/><circle cx="160.70" cy="232.22" r="2.0" fill="#000"/><circle cx="162.50" cy="232.22" r="2.0" fill="#000"/><circle cx="173.30" cy="232.22" r="2.0" fill="#000"/><circle cx="177.60" cy="232.22" r="2.0" fill="#000"/><circle cx="225.70" cy="232.22" r="2.0" fill="#000"/><circle cx="238.20" cy="232.22" r="2.0" fill="#000"/><circle cx="177.60" cy="243.59" r="2.0" fill="#000"/><circle cx="225.70" cy="243.59" r="2.0" fill="#000"/><circle cx="238.20" cy="243.59" r="2.0" fill="#000"/><circle cx="242.10" cy="243.59" r="2.0" fill="#000"/><circle cx="160.70" cy="254.96" r="2.0" fill="#000"/><circle cx="162.50" cy="254.96" r="2.0" fill="#000"/><circle cx="168.00" cy="254.96" r="2.0" fill="#000"/><circle cx="179.20" cy="254.96" r="2.0" fill="#000"/><circle cx="189.90" cy="254.96" r="2.0" fill="#000"/><circle cx="194.30" cy="254.96" r="2.0" fill="#000"/><circle cx="223.50" cy="254.96" r="2.0" fill="#000"/><circle cx="225.70" cy="254.96" r="2.0" fill="#000"/><circle cx="242.10" cy="254.96" r="2.0" fill="#000"/><circle cx="333.40" cy="254.96" r="2.0" fill="#000"/><circle cx="160.70" cy="266.34" r="2.0" fill="#000"/><circle cx="162.50" cy="266.34" r="2.0" fill="#000"/><circle cx="168.00" cy="266.34" r="2.0" fill="#000"/><circle cx="173.30" cy="266.34" r="2.0" fill="#000"/><circle cx="212.40" cy="266.34" r="2.0" fill="#000"/><circle cx="225.70" cy="266.34" r="2.0" fill="#000"/><circle cx="242.10" cy="266.34" r="2.0" fill="#000"/><circle cx="333.40" cy="266.34" r="2.0" fill="#000"/><circle cx="160.70" cy="277.71" r="2.0" fill="#000"/><circle cx="168.00" cy="277.71" r="2.0" fill="#000"/><circle cx="173.30" cy="277.71" r="2.0" fill="#000"/><circle cx="179.20" cy="277.71" r="2.0" fill="#000"/><circle cx="206.50" cy="277.71" r="2.0" fill="#000"/><circle cx="212.40" cy="277.71" r="2.0" fill="#000"/><circle cx="223.50" cy="277.71" r="2.0" fill="#000"/><circle cx="242.10" cy="277.71" r="2.0" fill="#000"/><circle cx="168.00" cy="289.08" r="2.0" fill="#000"/><circle cx="169.40" cy="289.08" r="2.0" fill="#000"/><circle cx="173.30" cy="289.08" r="2.0" fill="#000"/><circle cx="177.60" cy="289.08" r="2.0" fill="#000"/><circle cx="179.20" cy="289.08" r="2.0" fill="#000"/><circle cx="189.90" cy="289.08" r="2.0" fill="#000"/><circle cx="242.10" cy="289.08" r="2.0" fill="#000"/><circle cx="333.40" cy="289.08" r="2.0" fill="#000"/><circle cx="160.70" cy="300.45" r="2.0" fill="#000"/><circle cx="162.50" cy="300.45" r="2.0" fill="#000"/><circle cx="168.00" cy="300.45" r="2.0" fill="#000"/><circle cx="173.30" cy="300.45" r="2.0" fill="#000"/><circle cx="177.60" cy="300.45" r="2.0" fill="#000"/><circle cx="189.90" cy="300.45" r="2.0" fill="#000"/><circle cx="223.50" cy="300.45" r="2.0" fill="#000"/><circle cx="242.10" cy="300.45" r="2.0" fill="#000"/><circle cx="333.40" cy="300.45" r="2.0" fill="#000"/><circle cx="160.70" cy="311.83" r="2.0" fill="#000"/><circle cx="162.50" cy="311.83" r="2.0" fill="#000"/><circle cx="168.00" cy="311.83" r="2.0" fill="#000"/><circle cx="169.40" cy="311.83" r="2.0" fill="#000"/><circle cx="173.30" cy="311.83" r="2.0" fill="#000"/><circle cx="177.60" cy="311.83" r="2.0" fill="#000"/><circle cx="179.20" cy="311.83" r="2.0" fill="#000"/><circle cx="206.50" cy="311.83" r="2.0" fill="#000"/><circle cx="209.90" cy="311.83" r="2.0" fill="#000"/><circle cx="242.10" cy="311.83" r="2.0" fill="#000"/><circle cx="160.70" cy="323.20" r="2.0" fill="#000"/><circle cx="162.50" cy="323.20" r="2.0" fill="#000"/><circle cx="168.00" cy="323.20" r="2.0" fill="#000"/><circle cx="173.30" cy="323.20" r="2.0" fill="#000"/><circle cx="179.20" cy="323.20" r="2.0" fill="#000"/><circle cx="189.90" cy="323.20" r="2.0" fill="#000"/><circle cx="225.70" cy="323.20" r="2.0" fill="#000"/><circle cx="160.70" cy="334.57" r="2.0" fill="#000"/><circle cx="162.50" cy="334.57" r="2.0" fill="#000"/><circle cx="169.40" cy="334.57" r="2.0" fill="#000"/><circle cx="179.20" cy="334.57" r="2.0" fill="#000"/><circle cx="189.90" cy="334.57" r="2.0" fill="#000"/><circle cx="206.50" cy="334.57" r="2.0" fill="#000"/><circle cx="212.40" cy="334.57" r="2.0" fill="#000"/><circle cx="160.70" cy="345.94" r="2.0" fill="#000"/><circle cx="168.00" cy="345.94" r="2.0" fill="#000"/><circle cx="169.40" cy="345.94" r="2.0" fill="#000"/><circle cx="179.20" cy="345.94" r="2.0" fill="#000"/><circle cx="223.50" cy="345.94" r="2.0" fill="#000"/><circle cx="242.10" cy="345.94" r="2.0" fill="#000"/><circle cx="160.70" cy="357.32" r="2.0" fill="#000"/><circle cx="162.50" cy="357.32" r="2.0" fill="#000"/><circle cx="169.40" cy="357.32" r="2.0" fill="#000"/><circle cx="173.30" cy="357.32" r="2.0" fill="#000"/><circle cx="179.20" cy="357.32" r="2.0" fill="#000"/><circle cx="242.10" cy="357.32" r="2.0" fill="#000"/><circle cx="169.40" cy="368.69" r="2.0" fill="#000"/><circle cx="169.40" cy="380.06" r="2.0" fill="#000"/><circle cx="242.10" cy="380.06" r="2.0" fill="#000"/><polygon points="160.90,299.02 165.21,298.69 169.53,298.33 173.84,297.95 178.15,297.54 182.46,297.10 186.78,296.62 191.09,296.09 195.40,295.51 199.71,294.89 204.03,294.22 208.34,293.51 212.65,292.75 216.96,291.95 221.27,291.12 225.59,290.26 229.90,289.37 234.21,288.47 238.52,287.54 242.84,286.60 247.15,285.65 251.46,284.69 255.77,283.72 260.09,282.74 264.40,281.76 268.71,280.76 273.02,279.77 277.34,278.77 281.65,277.76 285.96,276.76 290.27,275.74 294.59,274.73 298.90,273.72 303.21,272.70 307.52,271.68 311.84,270.66 316.15,269.63 320.46,268.61 324.77,267.59 329.09,266.56 333.40,265.53 333.40,293.53 329.09,293.73 324.77,293.94 320.46,294.15 316.15,294.36 311.84,294.57 307.52,294.78 303.21,295.00 298.90,295.21 294.59,295.43 290.27,295.65 285.96,295.87 281.65,296.10 277.34,296.33 273.02,296.56 268.71,296.80 264.40,297.04 260.09,297.29 255.77,297.55 251.46,297.81 247.15,298.08 242.84,298.36 238.52,298.66 234.21,298.97 229.90,299.30 225.59,299.65 221.27,300.02 216.96,300.42 212.65,300.86 208.34,301.33 204.03,301.85 199.71,302.42 195.40,303.03 191.09,303.69 186.78,304.39 182.46,305.14 178.15,305.93 173.84,306.76 169.53,307.61 165.21,308.49 160.90,309.39" fill="#999" fill-opacity="0.4"/><polyline points="160.90,304.21 165.21,303.59 169.53,302.97 173.84,302.36 178.15,301.74 182.46,301.12 186.78,300.51 191.09,299.89 195.40,299.27 199.71,298.65 204.03,298.04 208.34,297.42 212.65,296.80 216.96,296.19 221.27,295.57 225.59,294.95 229.90,294.34 234.21,293.72 238.52,293.10 242.84,292.48 247.15,291.87 251.46,291.25 255.77,290.63 260.09,290.02 264.40,289.40 268.71,288.78 273.02,288.17 277.34,287.55 281.65,286.93 285.96,286.32 290.27,285.70 294.59,285.08 298.90,284.46 303.21,283.85 307.52,283.23 311.84,282.61 316.15,282.00 320.46,281.38 324.77,280.76 329.09,280.15 333.40,279.53" fill="none" stroke="#0000FF" stroke-width="1.6"/></g><rect x="152.4" y="225.35" width="189.6" height="162.04999999999998" fill="none" stroke="#7f7f7f" stroke-width="1.1"/><line x1="160.90" y1="387.4" x2="160.90" y2="390.09999999999997" stroke="#7f7f7f" stroke-width="1.1"/><text transform="translate(160.90 398.00) scale(1 1.1)" font-size="7.2" fill="#333" stroke="#333" stroke-width="0.2" text-anchor="middle">0</text><line x1="221.20" y1="387.4" x2="221.20" y2="390.09999999999997" stroke="#7f7f7f" stroke-width="1.1"/><text transform="translate(221.20 398.00) scale(1 1.1)" font-size="7.2" fill="#333" stroke="#333" stroke-width="0.2" text-anchor="middle">50</text><line x1="281.50" y1="387.4" x2="281.50" y2="390.09999999999997" stroke="#7f7f7f" stroke-width="1.1"/><text transform="translate(281.50 398.00) scale(1 1.1)" font-size="7.2" fill="#333" stroke="#333" stroke-width="0.2" text-anchor="middle">100</text><line x1="341.80" y1="387.4" x2="341.80" y2="390.09999999999997" stroke="#7f7f7f" stroke-width="1.1"/><g clip-path="url(#clip150)"><text transform="translate(342.30 398.00) scale(1 1.1)" font-size="7.2" fill="#333" stroke="#333" stroke-width="0.2" text-anchor="middle">150</text></g><line x1="149.70000000000002" y1="345.94" x2="152.4" y2="345.94" stroke="#7f7f7f" stroke-width="1.1"/><text transform="translate(147.80 349.24) scale(1 1.1)" font-size="7.2" fill="#333" stroke="#333" stroke-width="0.2" text-anchor="end">92</text><line x1="149.70000000000002" y1="300.45" x2="152.4" y2="300.45" stroke="#7f7f7f" stroke-width="1.1"/><text transform="translate(147.80 303.75) scale(1 1.1)" font-size="7.2" fill="#333" stroke="#333" stroke-width="0.2" text-anchor="end">96</text><line x1="149.70000000000002" y1="254.96" x2="152.4" y2="254.96" stroke="#7f7f7f" stroke-width="1.1"/><text transform="translate(147.80 258.26) scale(1 1.1)" font-size="7.2" fill="#333" stroke="#333" stroke-width="0.2" text-anchor="end">100</text><text transform="translate(247.10 409.60) scale(1 1.06)" font-size="9.9" fill="#000" stroke="#000" stroke-width="0.12" text-anchor="middle">September ACE</text><text transform="translate(125.90 306.38) rotate(-90) scale(1 1.06)" font-size="9.9" fill="#000" stroke="#000" stroke-width="0.12" text-anchor="middle">SY Wing Chord (mm)</text><text x="152.10" y="217.70" font-size="10.5" font-weight="bold" fill="#000">d</text><g clip-path="url(#clipe)"><line x1="423.11" y1="225.35" x2="423.11" y2="387.4" stroke="#F5F5F5" stroke-width="0.55"/><line x1="481.43" y1="225.35" x2="481.43" y2="387.4" stroke="#F5F5F5" stroke-width="0.55"/><line x1="539.75" y1="225.35" x2="539.75" y2="387.4" stroke="#F5F5F5" stroke-width="0.55"/><line x1="385.7" y1="368.69" x2="575.3" y2="368.69" stroke="#F5F5F5" stroke-width="0.55"/><line x1="385.7" y1="323.20" x2="575.3" y2="323.20" stroke="#F5F5F5" stroke-width="0.55"/><line x1="385.7" y1="277.71" x2="575.3" y2="277.71" stroke="#F5F5F5" stroke-width="0.55"/><line x1="385.7" y1="232.22" x2="575.3" y2="232.22" stroke="#F5F5F5" stroke-width="0.55"/><line x1="393.95" y1="225.35" x2="393.95" y2="387.4" stroke="#EBEBEB" stroke-width="1.1"/><line x1="452.27" y1="225.35" x2="452.27" y2="387.4" stroke="#EBEBEB" stroke-width="1.1"/><line x1="510.59" y1="225.35" x2="510.59" y2="387.4" stroke="#EBEBEB" stroke-width="1.1"/><line x1="568.91" y1="225.35" x2="568.91" y2="387.4" stroke="#EBEBEB" stroke-width="1.1"/><line x1="385.7" y1="345.94" x2="575.3" y2="345.94" stroke="#EBEBEB" stroke-width="1.1"/><line x1="385.7" y1="300.45" x2="575.3" y2="300.45" stroke="#EBEBEB" stroke-width="1.1"/><line x1="385.7" y1="254.96" x2="575.3" y2="254.96" stroke="#EBEBEB" stroke-width="1.1"/><circle cx="408.50" cy="232.22" r="2.0" fill="#000"/><circle cx="421.20" cy="232.22" r="2.0" fill="#000"/><circle cx="433.70" cy="232.22" r="2.0" fill="#000"/><circle cx="489.50" cy="232.22" r="2.0" fill="#000"/><circle cx="512.60" cy="232.22" r="2.0" fill="#000"/><circle cx="556.60" cy="232.22" r="2.0" fill="#000"/><circle cx="408.50" cy="243.59" r="2.0" fill="#000"/><circle cx="450.80" cy="243.59" r="2.0" fill="#000"/><circle cx="512.60" cy="243.59" r="2.0" fill="#000"/><circle cx="556.60" cy="243.59" r="2.0" fill="#000"/><circle cx="393.90" cy="254.96" r="2.0" fill="#000"/><circle cx="396.90" cy="254.96" r="2.0" fill="#000"/><circle cx="404.60" cy="254.96" r="2.0" fill="#000"/><circle cx="406.30" cy="254.96" r="2.0" fill="#000"/><circle cx="410.40" cy="254.96" r="2.0" fill="#000"/><circle cx="423.30" cy="254.96" r="2.0" fill="#000"/><circle cx="430.50" cy="254.96" r="2.0" fill="#000"/><circle cx="486.90" cy="254.96" r="2.0" fill="#000"/><circle cx="489.50" cy="254.96" r="2.0" fill="#000"/><circle cx="512.60" cy="254.96" r="2.0" fill="#000"/><circle cx="566.50" cy="254.96" r="2.0" fill="#000"/><circle cx="393.90" cy="266.34" r="2.0" fill="#000"/><circle cx="396.90" cy="266.34" r="2.0" fill="#000"/><circle cx="421.20" cy="266.34" r="2.0" fill="#000"/><circle cx="433.70" cy="266.34" r="2.0" fill="#000"/><circle cx="450.80" cy="266.34" r="2.0" fill="#000"/><circle cx="489.50" cy="266.34" r="2.0" fill="#000"/><circle cx="512.60" cy="266.34" r="2.0" fill="#000"/><circle cx="566.50" cy="266.34" r="2.0" fill="#000"/><circle cx="406.30" cy="277.71" r="2.0" fill="#000"/><circle cx="423.30" cy="277.71" r="2.0" fill="#000"/><circle cx="430.50" cy="277.71" r="2.0" fill="#000"/><circle cx="433.70" cy="277.71" r="2.0" fill="#000"/><circle cx="450.80" cy="277.71" r="2.0" fill="#000"/><circle cx="464.80" cy="277.71" r="2.0" fill="#000"/><circle cx="489.50" cy="277.71" r="2.0" fill="#000"/><circle cx="566.50" cy="277.71" r="2.0" fill="#000"/><circle cx="396.90" cy="289.08" r="2.0" fill="#000"/><circle cx="404.60" cy="289.08" r="2.0" fill="#000"/><circle cx="406.30" cy="289.08" r="2.0" fill="#000"/><circle cx="410.40" cy="289.08" r="2.0" fill="#000"/><circle cx="423.30" cy="289.08" r="2.0" fill="#000"/><circle cx="433.70" cy="289.08" r="2.0" fill="#000"/><circle cx="556.60" cy="289.08" r="2.0" fill="#000"/><circle cx="566.50" cy="289.08" r="2.0" fill="#000"/><circle cx="393.90" cy="300.45" r="2.0" fill="#000"/><circle cx="396.90" cy="300.45" r="2.0" fill="#000"/><circle cx="406.30" cy="300.45" r="2.0" fill="#000"/><circle cx="410.40" cy="300.45" r="2.0" fill="#000"/><circle cx="421.20" cy="300.45" r="2.0" fill="#000"/><circle cx="430.50" cy="300.45" r="2.0" fill="#000"/><circle cx="433.70" cy="300.45" r="2.0" fill="#000"/><circle cx="450.80" cy="300.45" r="2.0" fill="#000"/><circle cx="489.50" cy="300.45" r="2.0" fill="#000"/><circle cx="556.60" cy="300.45" r="2.0" fill="#000"/><circle cx="566.50" cy="300.45" r="2.0" fill="#000"/><circle cx="393.90" cy="311.83" r="2.0" fill="#000"/><circle cx="404.60" cy="311.83" r="2.0" fill="#000"/><circle cx="406.30" cy="311.83" r="2.0" fill="#000"/><circle cx="410.40" cy="311.83" r="2.0" fill="#000"/><circle cx="423.30" cy="311.83" r="2.0" fill="#000"/><circle cx="426.50" cy="311.83" r="2.0" fill="#000"/><circle cx="433.70" cy="311.83" r="2.0" fill="#000"/><circle cx="450.80" cy="311.83" r="2.0" fill="#000"/><circle cx="464.80" cy="311.83" r="2.0" fill="#000"/><circle cx="489.50" cy="311.83" r="2.0" fill="#000"/><circle cx="516.70" cy="311.83" r="2.0" fill="#000"/><circle cx="556.60" cy="311.83" r="2.0" fill="#000"/><circle cx="566.50" cy="311.83" r="2.0" fill="#000"/><circle cx="393.90" cy="323.20" r="2.0" fill="#000"/><circle cx="410.40" cy="323.20" r="2.0" fill="#000"/><circle cx="421.20" cy="323.20" r="2.0" fill="#000"/><circle cx="423.30" cy="323.20" r="2.0" fill="#000"/><circle cx="433.70" cy="323.20" r="2.0" fill="#000"/><circle cx="489.50" cy="323.20" r="2.0" fill="#000"/><circle cx="512.60" cy="323.20" r="2.0" fill="#000"/><circle cx="566.50" cy="323.20" r="2.0" fill="#000"/><circle cx="393.90" cy="334.57" r="2.0" fill="#000"/><circle cx="404.60" cy="334.57" r="2.0" fill="#000"/><circle cx="410.40" cy="334.57" r="2.0" fill="#000"/><circle cx="423.30" cy="334.57" r="2.0" fill="#000"/><circle cx="433.70" cy="334.57" r="2.0" fill="#000"/><circle cx="464.80" cy="334.57" r="2.0" fill="#000"/><circle cx="489.50" cy="334.57" r="2.0" fill="#000"/><circle cx="404.60" cy="345.94" r="2.0" fill="#000"/><circle cx="406.30" cy="345.94" r="2.0" fill="#000"/><circle cx="423.30" cy="345.94" r="2.0" fill="#000"/><circle cx="430.50" cy="345.94" r="2.0" fill="#000"/><circle cx="489.50" cy="345.94" r="2.0" fill="#000"/><circle cx="566.50" cy="345.94" r="2.0" fill="#000"/><circle cx="404.60" cy="357.32" r="2.0" fill="#000"/><circle cx="406.30" cy="357.32" r="2.0" fill="#000"/><circle cx="421.20" cy="357.32" r="2.0" fill="#000"/><circle cx="423.30" cy="357.32" r="2.0" fill="#000"/><circle cx="433.70" cy="357.32" r="2.0" fill="#000"/><circle cx="489.50" cy="357.32" r="2.0" fill="#000"/><circle cx="404.60" cy="368.69" r="2.0" fill="#000"/><circle cx="404.60" cy="380.06" r="2.0" fill="#000"/><circle cx="405.60" cy="380.06" r="2.0" fill="#000"/><polygon points="394.30,299.55 398.61,299.44 402.91,299.31 407.22,299.18 411.52,299.03 415.82,298.86 420.13,298.67 424.44,298.46 428.74,298.22 433.05,297.95 437.35,297.64 441.66,297.29 445.96,296.89 450.26,296.46 454.57,295.98 458.88,295.47 463.18,294.93 467.49,294.36 471.79,293.78 476.10,293.17 480.40,292.55 484.71,291.92 489.01,291.27 493.31,290.62 497.62,289.96 501.93,289.30 506.23,288.63 510.53,287.96 514.84,287.28 519.14,286.60 523.45,285.92 527.75,285.24 532.06,284.55 536.37,283.86 540.67,283.17 544.98,282.48 549.28,281.79 553.59,281.10 557.89,280.40 562.19,279.71 566.50,279.01 566.50,298.47 562.19,298.53 557.89,298.60 553.59,298.67 549.28,298.74 544.98,298.81 540.67,298.88 536.37,298.95 532.06,299.02 527.75,299.10 523.45,299.18 519.14,299.26 514.84,299.34 510.53,299.43 506.23,299.52 501.93,299.61 497.62,299.71 493.31,299.81 489.01,299.92 484.71,300.04 480.40,300.17 476.10,300.31 471.79,300.47 467.49,300.64 463.18,300.84 458.88,301.06 454.57,301.31 450.26,301.60 445.96,301.92 441.66,302.29 437.35,302.70 433.05,303.15 428.74,303.64 424.44,304.16 420.13,304.71 415.82,305.29 411.52,305.88 407.22,306.50 402.91,307.12 398.61,307.76 394.30,308.40" fill="#999" fill-opacity="0.4"/><polyline points="394.30,303.98 398.61,303.60 402.91,303.22 407.22,302.84 411.52,302.46 415.82,302.07 420.13,301.69 424.44,301.31 428.74,300.93 433.05,300.55 437.35,300.17 441.66,299.79 445.96,299.41 450.26,299.03 454.57,298.65 458.88,298.26 463.18,297.88 467.49,297.50 471.79,297.12 476.10,296.74 480.40,296.36 484.71,295.98 489.01,295.60 493.31,295.22 497.62,294.84 501.93,294.45 506.23,294.07 510.53,293.69 514.84,293.31 519.14,292.93 523.45,292.55 527.75,292.17 532.06,291.79 536.37,291.41 540.67,291.03 544.98,290.65 549.28,290.26 553.59,289.88 557.89,289.50 562.19,289.12 566.50,288.74" fill="none" stroke="#0000FF" stroke-width="1.6"/></g><rect x="385.7" y="225.35" width="189.3" height="162.04999999999998" fill="none" stroke="#7f7f7f" stroke-width="1.1"/><line x1="393.95" y1="387.4" x2="393.95" y2="390.09999999999997" stroke="#7f7f7f" stroke-width="1.1"/><text transform="translate(393.95 398.00) scale(1 1.1)" font-size="7.2" fill="#333" stroke="#333" stroke-width="0.2" text-anchor="middle">0</text><line x1="452.27" y1="387.4" x2="452.27" y2="390.09999999999997" stroke="#7f7f7f" stroke-width="1.1"/><text transform="translate(452.27 398.00) scale(1 1.1)" font-size="7.2" fill="#333" stroke="#333" stroke-width="0.2" text-anchor="middle">20</text><line x1="510.59" y1="387.4" x2="510.59" y2="390.09999999999997" stroke="#7f7f7f" stroke-width="1.1"/><text transform="translate(510.59 398.00) scale(1 1.1)" font-size="7.2" fill="#333" stroke="#333" stroke-width="0.2" text-anchor="middle">40</text><line x1="568.91" y1="387.4" x2="568.91" y2="390.09999999999997" stroke="#7f7f7f" stroke-width="1.1"/><text transform="translate(568.91 398.00) scale(1 1.1)" font-size="7.2" fill="#333" stroke="#333" stroke-width="0.2" text-anchor="middle">60</text><line x1="383.0" y1="345.94" x2="385.7" y2="345.94" stroke="#7f7f7f" stroke-width="1.1"/><text transform="translate(381.10 349.24) scale(1 1.1)" font-size="7.2" fill="#333" stroke="#333" stroke-width="0.2" text-anchor="end">92</text><line x1="383.0" y1="300.45" x2="385.7" y2="300.45" stroke="#7f7f7f" stroke-width="1.1"/><text transform="translate(381.10 303.75) scale(1 1.1)" font-size="7.2" fill="#333" stroke="#333" stroke-width="0.2" text-anchor="end">96</text><line x1="383.0" y1="254.96" x2="385.7" y2="254.96" stroke="#7f7f7f" stroke-width="1.1"/><text transform="translate(381.10 258.26) scale(1 1.1)" font-size="7.2" fill="#333" stroke="#333" stroke-width="0.2" text-anchor="end">100</text><text transform="translate(480.50 409.60) scale(1 1.06)" font-size="9.9" fill="#000" stroke="#000" stroke-width="0.12" text-anchor="middle">October ACE</text><text transform="translate(358.40 306.38) rotate(-90) scale(1 1.06)" font-size="9.9" fill="#000" stroke="#000" stroke-width="0.12" text-anchor="middle">SY Wing Chord (mm)</text><text x="385.40" y="217.70" font-size="10.5" font-weight="bold" fill="#000">e</text></svg>
</div></body></html>
